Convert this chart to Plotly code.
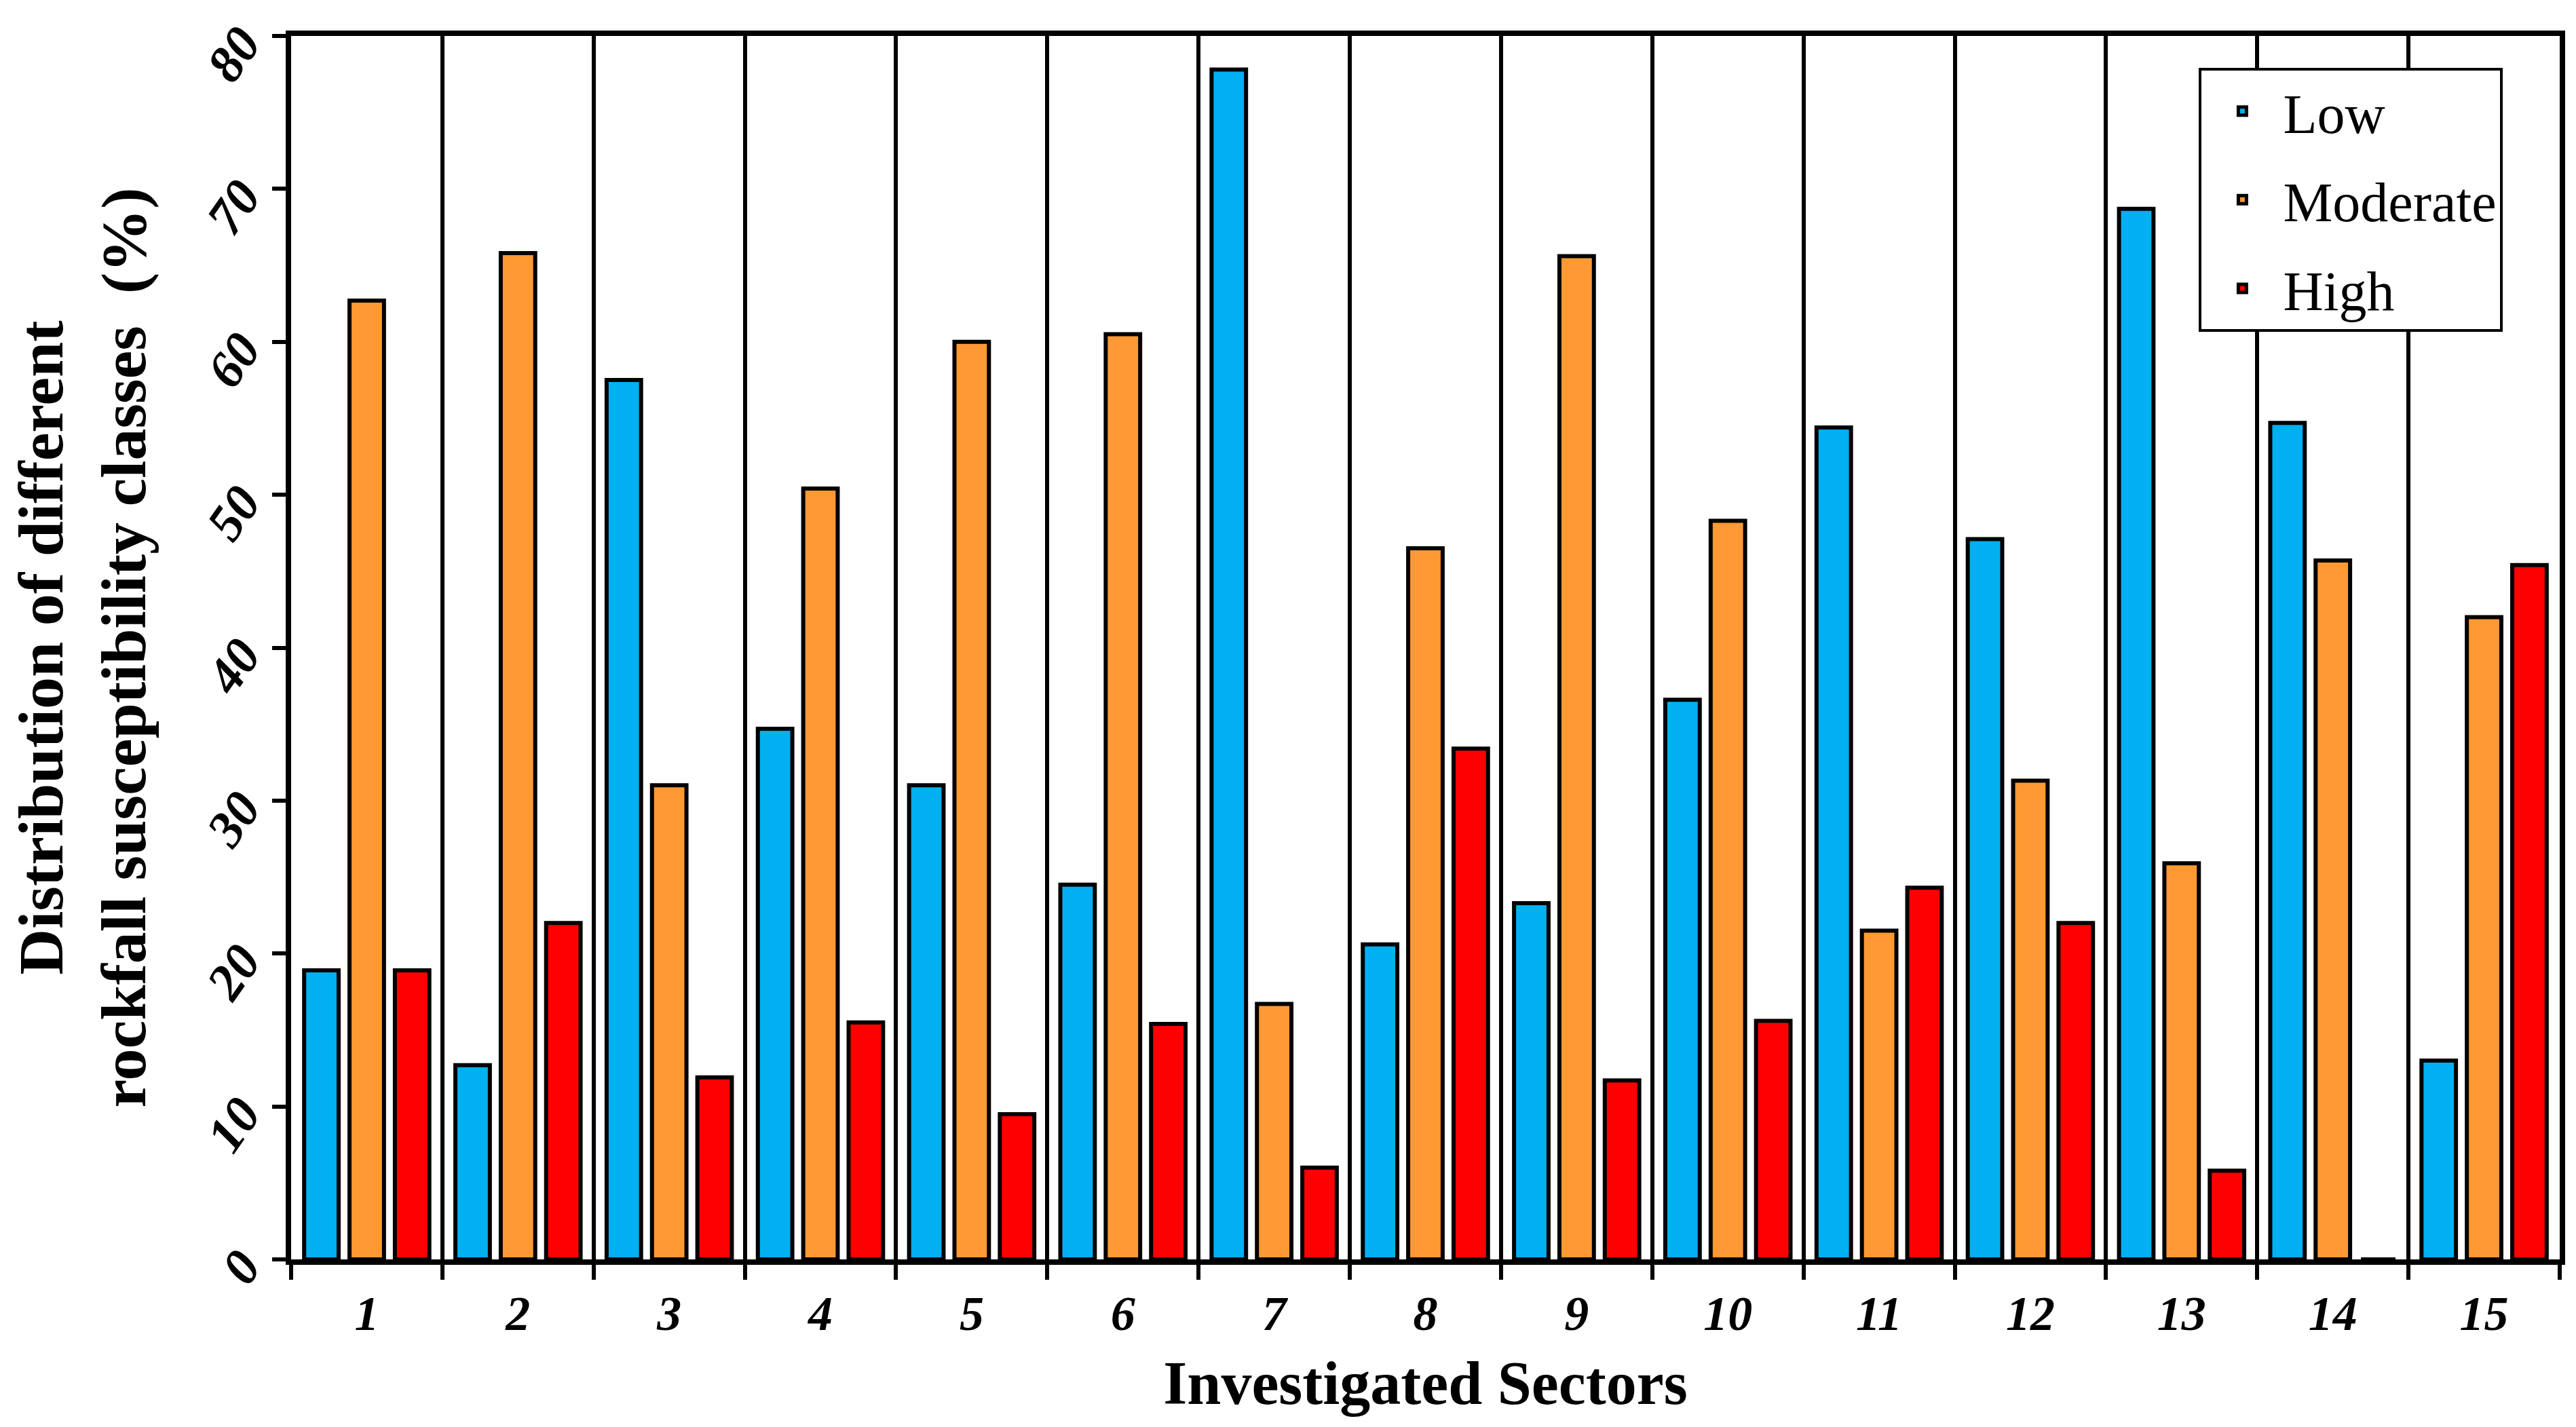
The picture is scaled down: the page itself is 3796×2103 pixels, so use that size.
import plotly.graph_objects as go

sectors = [str(i) for i in range(1, 16)]
low = [18.9, 12.7, 57.5, 34.7, 31.0, 24.5, 77.8, 20.6, 23.3, 36.6, 54.4, 47.1, 68.7, 54.7, 13.0]
moderate = [62.7, 65.8, 31.0, 50.4, 60.0, 60.5, 16.7, 46.5, 65.6, 48.3, 21.5, 31.3, 25.9, 45.7, 42.0]
high = [18.9, 22.0, 11.9, 15.5, 9.5, 15.4, 6.0, 33.4, 11.7, 15.6, 24.3, 22.0, 5.8, 0.0, 45.4]

series = [("Low", low, "#00B0F0"), ("Moderate", moderate, "#FF9933"), ("High", high, "#FF0000")]

FONT = "Liberation Serif"

fig = go.Figure()
for name, vals, col in series:
    fig.add_trace(go.Bar(
        x=sectors, y=vals, name=name, legendgroup=name,
        marker=dict(color=col, line=dict(color="black", width=6)),
    ))

fig.update_layout(
    width=3796, height=2103,
    margin=dict(l=421, r=32, t=45, b=255),
    plot_bgcolor="white", paper_bgcolor="white",
    barmode="group", bargap=0.1, bargroupgap=0.24,
    font=dict(family=FONT, color="black"),
    legend=dict(
        x=0.975, xanchor="right", y=0.974, yanchor="top",
        bordercolor="black", borderwidth=4, bgcolor="white",
        font=dict(family=FONT, size=82, color="black"),
        tracegroupgap=21, traceorder="grouped", itemwidth=110,
    ),
)

fig.update_xaxes(
    type="category", tickson="boundaries",
    ticks="outside", ticklen=22, tickwidth=6, tickcolor="black",
    showgrid=True, gridcolor="black", gridwidth=6,
    showline=True, linecolor="black", linewidth=8, mirror=True,
    tickfont=dict(family=FONT, size=72, weight="bold", style="italic"),
    ticklabelstandoff=10,
    title=dict(text="Investigated Sectors", standoff=34,
               font=dict(family=FONT, size=90, weight="bold")),
)

fig.update_yaxes(
    range=[0, 80], dtick=10, tick0=0,
    ticks="outside", ticklen=20, tickwidth=6, tickcolor="black",
    showgrid=False, zeroline=False,
    showline=True, linecolor="black", linewidth=8, mirror=True,
    tickangle=-55, ticklabelstandoff=30,
    tickfont=dict(family=FONT, size=76, weight="bold", style="italic"),
    title=dict(text="Distribution of different<br>rockfall susceptibility classes  (%)", standoff=56,
               font=dict(family=FONT, size=94, weight="bold")),
)

fig.write_html("out.html")
